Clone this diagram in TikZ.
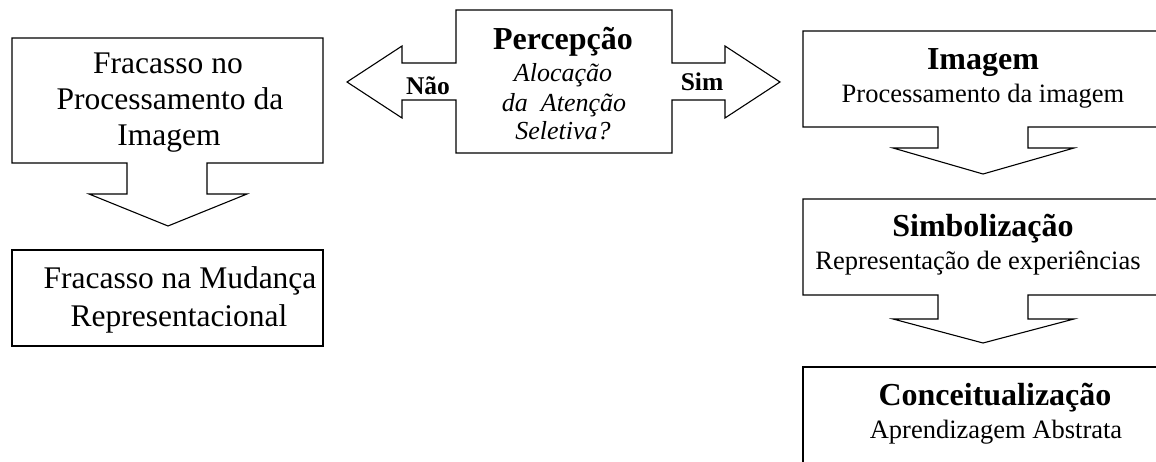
\documentclass[tikz,border=0pt]{standalone}
\usepackage{fontspec}
\setmainfont{Liberation Serif}
\begin{document}
\begin{tikzpicture}[x=1pt,y=-1pt]
\tikzset{
  shp/.style={draw=black, line width=1.1pt, fill=white, line join=miter},
  ttl/.style={font=\fontsize{32}{34}\selectfont\bfseries, anchor=base, inner sep=0pt},
  sub/.style={font=\fontsize{26.5}{28}\selectfont, anchor=base, inner sep=0pt},
  big/.style={font=\fontsize{31.5}{33}\selectfont, anchor=base, inner sep=0pt},
  ital/.style={font=\fontsize{26}{28}\selectfont\itshape, anchor=base, inner sep=0pt},
  lab/.style={font=\fontsize{25.5}{27}\selectfont\bfseries, anchor=base, inner sep=0pt}
}
\path[use as bounding box, clip] (0,0) rectangle (1156,462);
\fill[white] (0,0) rectangle (1156,462);

% left top callout (down arrow)
\draw[shp] (12,38) -- (323,38) -- (323,163) -- (207,163) -- (207,194) -- (247,194)
  -- (168,226) -- (89,194) -- (127,194) -- (127,163) -- (12,163) -- cycle;
\node[big] (f1) at (168,74) {Fracasso no};
\node[big] (f2) at (170,110) {Processamento da};
\node[big] (f3) at (169,146) {Imagem};

% left bottom box
\draw[shp] (12,250) rectangle (323,346);
\node[big] (m1) at (180,288) {Fracasso na Mudança};
\node[big] (m2) at (179,326) {Representacional};

% centre callout (left-right arrow)
\draw[shp] (456,10) -- (672,10) -- (672,63) -- (725,63) -- (725,46) -- (780,82)
  -- (725,118) -- (725,100) -- (672,100) -- (672,153) -- (456,153) -- (456,100)
  -- (402,100) -- (402,118) -- (347,82) -- (402,46) -- (402,63) -- (456,63) -- cycle;
\node[ttl] (p0) at (563,50) {Percepção};
\node[ital] (p1) at (563,82) {Alocação};
\node[ital] (p2) at (564,112) {da\ \ Atenção};
\node[ital] (p3) at (563,140) {Seletiva?};
\node[lab] (nao) at (428,95) {Não};
\node[lab] (sim) at (702,91) {Sim};

% right column
\draw[shp] (803,31) -- (1170,31) -- (1170,127) -- (1028,127) -- (1028,148) -- (1074,148)
  -- (983,174) -- (893,148) -- (938,148) -- (938,127) -- (803,127) -- cycle;
\node[ttl] (i1) at (983,70) {Imagem};
\node[sub] (i2) at (983,103) {Processamento da imagem};

\draw[shp] (803,199) -- (1170,199) -- (1170,295) -- (1028,295) -- (1028,319) -- (1074,319)
  -- (983,343) -- (893,319) -- (938,319) -- (938,295) -- (803,295) -- cycle;
\node[ttl] (s1) at (983,237) {Simbolização};
\node[sub] (s2) at (978,270) {Representação de experiências};

\draw[shp] (803,367) rectangle (1170,490);
\node[ttl] (c1) at (995,405) {Conceitualização};
\node[sub] (c2) at (996,438) {Aprendizagem Abstrata};
\end{tikzpicture}
\end{document}
